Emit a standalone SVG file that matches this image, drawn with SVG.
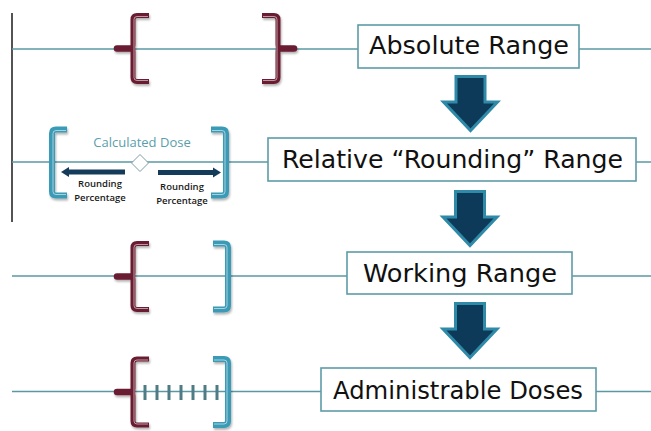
<svg xmlns="http://www.w3.org/2000/svg" xmlns:xlink="http://www.w3.org/1999/xlink" width="651" height="431" viewBox="0 0 651 431">
  <style>
    .axis { stroke: #5a98a3; stroke-width: 1.3; fill: none; }
    .box { fill: #ffffff; stroke: #5e9ca8; stroke-width: 1.6; }
    .label { font-family: "DejaVu Sans", "Open Sans", sans-serif; font-size: 25px; fill: #111111; text-anchor: middle; }
    .maroon { fill: none; stroke: #6b1e30; stroke-width: 5; stroke-linejoin: round; }
    .maroon-nub { fill: none; stroke: #6b1e30; stroke-width: 6.5; stroke-linecap: round; }
    .teal { fill: none; stroke: #3a9ab6; stroke-width: 6; stroke-linejoin: round; }
    .hl { fill: none; stroke: #ffffff; stroke-opacity: 0.55; stroke-width: 1; }
    .down { fill: #0e3a5a; stroke: #2f8aa8; stroke-width: 3; stroke-linejoin: miter; }
    .small { font-family: "Open Sans", "DejaVu Sans", sans-serif; font-size: 9.5px; font-weight: 600; fill: #1a1a1a; text-anchor: middle; }
    .calc { font-family: "Open Sans", "DejaVu Sans", sans-serif; font-size: 13px; fill: #5a9eab; text-anchor: middle; }
    .tick { fill: #4f7c84; }
    .harrow { fill: #143c5a; }
  </style>
  <defs>
    <filter id="sh" x="-50%" y="-20%" width="200%" height="140%">
      <feDropShadow dx="1" dy="2" stdDeviation="1.3" flood-color="#000000" flood-opacity="0.3"/>
    </filter>
    <g id="curly">
      <path class="maroon" d="M16,-33 H4 Q0,-33 0,-29 V-4 Q0,0 -2,0 Q0,0 0,4 V29 Q0,33 4,33 H16"/>
      <path class="maroon-nub" d="M-16,0 H-1"/>
      <path class="hl" d="M15,-32 H4 Q1,-32 1,-29 V29 Q1,32 4,32 H15"/>
    </g>
    <g id="square">
      <path class="teal" d="M15,-33 H4 Q0,-33 0,-29 V29 Q0,33 4,33 H15"/>
      <path class="hl" d="M14,-32 H4 Q1,-32 1,-29 V29 Q1,32 4,32 H14"/>
    </g>
    <path id="darrow" class="down" d="M-14.5,1.5 H14.5 V27 H27 L0,55.5 L-27,27 H-14.5 Z"/>
  </defs>

  <rect width="651" height="431" fill="#ffffff"/>

  <g id="connectors">
    <line x1="12" y1="13" x2="12" y2="222" stroke="#1a1a1a" stroke-width="1.5"/>
    <line class="axis" x1="12" y1="49" x2="651" y2="49"/>
    <line class="axis" x1="12" y1="162" x2="651" y2="162"/>
    <line class="axis" x1="12" y1="276" x2="651" y2="276"/>
    <line class="axis" x1="12" y1="391.5" x2="651" y2="391.5"/>
    <use xlink:href="#darrow" transform="translate(470.5,75)"/>
    <use xlink:href="#darrow" transform="translate(470,190)"/>
    <use xlink:href="#darrow" transform="translate(470,302)"/>
  </g>

  <g id="absolute-range-brackets" filter="url(#sh)">
    <use xlink:href="#curly" transform="translate(133,48.5)"/>
    <use xlink:href="#curly" transform="translate(278,48.5) scale(-1,1)"/>
  </g>
  <g id="absolute-range">
    <rect class="box" x="358" y="25" width="221" height="43"/>
    <text class="label" x="469" y="54" textLength="200" lengthAdjust="spacingAndGlyphs">Absolute Range</text>
  </g>

  <g id="rounding-range-diagram">
    <g filter="url(#sh)">
      <use xlink:href="#square" transform="translate(52,162.5)"/>
      <use xlink:href="#square" transform="translate(226,162.5) scale(-1,1)"/>
    </g>
    <text class="calc" x="142" y="147">Calculated Dose</text>
    <polygon points="140,154.5 148.5,163 140,171.5 131.5,163" fill="#ffffff" stroke="#7d9ea5" stroke-width="1"/>
    <rect class="harrow" x="68" y="169.5" width="57" height="5"/>
    <polygon class="harrow" points="61,172 69,167 69,177"/>
    <rect class="harrow" x="158" y="170" width="56" height="5"/>
    <polygon class="harrow" points="221,172.5 213,167.5 213,177.5"/>
    <text class="small" x="100" y="187">Rounding</text>
    <text class="small" x="100" y="201">Percentage</text>
    <text class="small" x="182" y="190">Rounding</text>
    <text class="small" x="182" y="204">Percentage</text>
  </g>
  <g id="relative-rounding-range">
    <rect class="box" x="268" y="138" width="368" height="43"/>
    <text class="label" x="452.5" y="168" textLength="341" lengthAdjust="spacingAndGlyphs">Relative “Rounding” Range</text>
  </g>

  <g id="working-range-brackets" filter="url(#sh)">
    <use xlink:href="#curly" transform="translate(133,276.5)"/>
    <use xlink:href="#square" transform="translate(228,276.5) scale(-1,1)"/>
  </g>
  <g id="working-range">
    <rect class="box" x="347" y="252" width="225" height="42"/>
    <text class="label" x="460" y="282" textLength="194" lengthAdjust="spacingAndGlyphs">Working Range</text>
  </g>

  <g id="administrable-doses-brackets">
    <g filter="url(#sh)">
      <use xlink:href="#curly" transform="translate(133,392)"/>
      <use xlink:href="#square" transform="translate(228,392) scale(-1,1)"/>
    </g>
    <rect class="tick" x="143.5" y="385" width="3" height="15"/>
    <rect class="tick" x="155.5" y="385" width="3" height="15"/>
    <rect class="tick" x="167.5" y="385" width="3" height="15"/>
    <rect class="tick" x="179.5" y="385" width="3" height="15"/>
    <rect class="tick" x="191.5" y="385" width="3" height="15"/>
    <rect class="tick" x="203.5" y="385" width="3" height="15"/>
    <rect class="tick" x="215.5" y="385" width="3" height="15"/>
  </g>
  <g id="administrable-doses">
    <rect class="box" x="321" y="368" width="275" height="43"/>
    <text class="label" x="458" y="399" textLength="250" lengthAdjust="spacingAndGlyphs">Administrable Doses</text>
  </g>
</svg>
